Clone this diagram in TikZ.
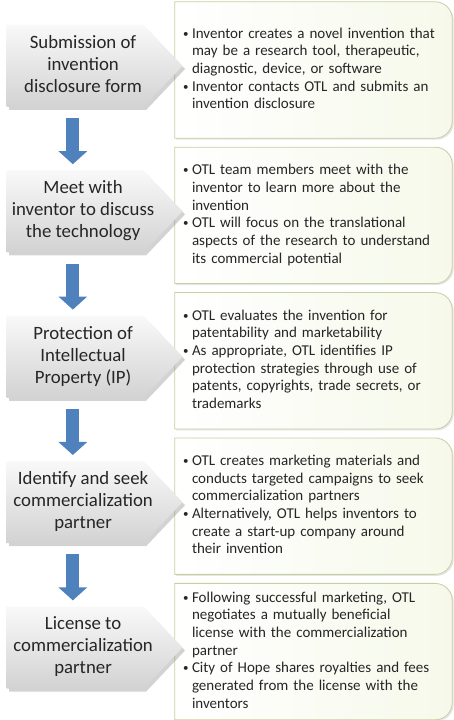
\documentclass[tikz,border=0pt]{standalone}
\usepackage{fontspec}
\setmainfont{Carlito}
\usetikzlibrary{shapes.symbols,arrows.meta,positioning,shadows,backgrounds}
\definecolor{OTLblue}{RGB}{79,129,189}
\definecolor{OTLblueedge}{RGB}{56,93,138}
\definecolor{OTLline}{RGB}{196,209,160}
\definecolor{OTLtint}{RGB}{246,249,234}
\definecolor{OTLtext}{RGB}{38,38,38}
\newcommand{\otlb}{\makebox[9.5pt][l]{\hspace{0.5pt}\raisebox{1pt}{\fontsize{11}{11}\selectfont\textbullet}}}
\newcommand{\steplines}[1]{\makebox[100pt]{\hspace{16pt}\begin{tabular}{@{}c@{}}#1\end{tabular}}}
\tikzstyle{stage}  = [signal, signal to=east, signal pointer angle=93,
                      minimum width=176pt, minimum height=82pt, inner sep=0pt,
                      top color=gray!5, bottom color=gray!35, draw=none,
                      drop shadow={opacity=0.35, shadow xshift=2.5pt, shadow yshift=-3pt},
                      text=OTLtext, font=\fontsize{18.8}{22}\selectfont]
\tikzstyle{detail} = [rectangle, minimum width=277pt, minimum height=136pt,
                      text width=262pt, inner xsep=7.5pt, inner ysep=0pt,
                      align=left, text=OTLtext, font=\fontsize{15}{17.7}\selectfont]
\tikzstyle{boxedge} = [draw=OTLline, thick, left color=white, right color=OTLtint,
                      drop shadow={opacity=0.2, shadow xshift=1.5pt, shadow yshift=-1.5pt}]
\tikzstyle{flow}   = [line width=13pt, draw=OTLblue,
                      -{Triangle[width=28pt,length=13pt]},
                      shorten <=11pt, shorten >=6pt]

\begin{document}
\begin{tikzpicture}[x=1pt, y=1pt, node distance=9pt]
  \useasboundingbox (0,0) rectangle (454,720);
  % details on the right
  \node[detail] (d1) at (313.5,650) {\begin{tabular}{@{}l@{}l@{}}
    \otlb & Inventor creates a novel invention that\\
          & may be a research tool, therapeutic,\\
          & diagnostic, device, or software\\
    \otlb & Inventor contacts OTL and submits an\\
          & invention disclosure
  \end{tabular}};
  \node[detail, below=of d1] (d2) {\begin{tabular}{@{}l@{}l@{}}
    \otlb & OTL team members meet with the\\
          & inventor to learn more about the\\
          & invention\\
    \otlb & OTL will focus on the translational\\
          & aspects of the research to understand\\
          & its commercial potential
  \end{tabular}};
  \node[detail, below=of d2] (d3) {\begin{tabular}{@{}l@{}l@{}}
    \otlb & OTL evaluates the invention for\\
          & patentability and marketability\\
    \otlb & As appropriate, OTL identifies IP\\
          & protection strategies through use of\\
          & patents, copyrights, trade secrets, or\\
          & trademarks
  \end{tabular}};
  \node[detail, below=of d3] (d4) {\begin{tabular}{@{}l@{}l@{}}
    \otlb & OTL creates marketing materials and\\
          & conducts targeted campaigns to seek\\
          & commercialization partners\\
    \otlb & Alternatively, OTL helps inventors to\\
          & create a start-up company around\\
          & their invention
  \end{tabular}};
  \node[detail, below=of d4] (d5) {\begin{tabular}{@{}l@{}l@{}}
    \otlb & Following successful marketing, OTL\\
          & negotiates a mutually beneficial\\
          & license with the commercialization\\
          & partner\\
    \otlb & City of Hope shares royalties and fees\\
          & generated from the license with the\\
          & inventors
  \end{tabular}};
  \begin{scope}[on background layer]
    \foreach \d in {d1,d2,d3,d4,d5}
      \draw[boxedge] (\d.south west) -- (\d.north west) -- ([xshift=-17pt]\d.north east)
        arc[start angle=90, end angle=0, radius=17pt] -- ([yshift=17pt]\d.south east)
        arc[start angle=0, end angle=-90, radius=17pt] -- cycle;
  \end{scope}
  % steps on the left
  \node[stage, anchor=east] (s1) at ([xshift=8pt,yshift=4pt]d1.west) {\steplines{Submission of\\invention\\disclosure form}};
  \node[stage, anchor=east] (s2) at ([xshift=8pt,yshift=4pt]d2.west) {\steplines{Meet with\\inventor to discuss\\the technology}};
  \node[stage, anchor=east] (s3) at ([xshift=8pt,yshift=4pt]d3.west) {\steplines{Protection of\\Intellectual\\Property (IP)}};
  \node[stage, anchor=east] (s4) at ([xshift=8pt,yshift=4pt]d4.west) {\steplines{Identify and seek\\commercialization\\partner}};
  \node[stage, anchor=east] (s5) at ([xshift=8pt,yshift=4pt]d5.west) {\steplines{License to\\commercialization\\partner}};
  \foreach \a/\b in {s1/s2,s2/s3,s3/s4,s4/s5}
    \draw[flow] ([xshift=66.5pt]\a.south west) -- ([xshift=66.5pt]\b.north west);
\end{tikzpicture}
\end{document}
